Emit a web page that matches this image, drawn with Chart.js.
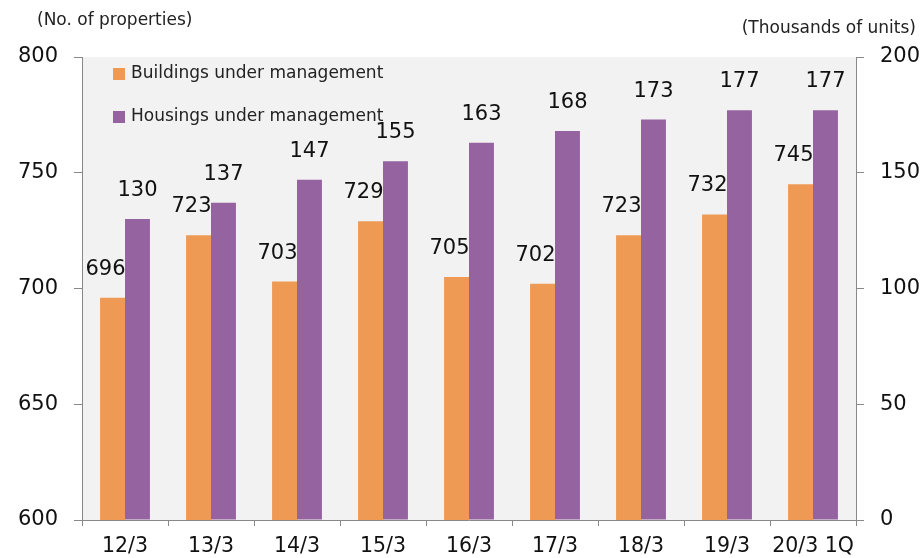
<!DOCTYPE html>
<html>
<head>
<meta charset="utf-8">
<script src="https://cdn.jsdelivr.net/npm/chart.js@4"></script>
<style>
  html, body { margin: 0; padding: 0; background: #fff; }
  #wrap { width: 922px; height: 558px; }
</style>
</head>
<body>
<div id="wrap"><canvas id="rendcont" width="922" height="558"></canvas></div>
<script>
// fiscal periods
const periods = ["12/3", "13/3", "14/3", "15/3", "16/3", "17/3", "18/3", "19/3", "20/3 1Q"];
// number of buildings (left axis)
const buildings = [696, 723, 703, 729, 705, 702, 723, 732, 745];
// housing units in thousands (right axis)
const housings = [130, 137, 147, 155, 163, 168, 173, 177, 177];
const leftTitle = "(No. of properties)";
const rightTitle = "(Thousands of units)";

const FONT = "'DejaVu Sans', Verdana, sans-serif";
const ORANGE = "#ee9a55";
const PURPLE = "#9563a0";
const AXIS = "#888888";

Chart.defaults.font.family = FONT;
Chart.defaults.color = "#111";

// grey plot background + axis titles
const backdrop = {
  id: "backdrop",
  beforeDraw(chart) {
    const { ctx, chartArea: a } = chart;
    ctx.save();
    ctx.fillStyle = "#f2f2f2";
    ctx.fillRect(a.left, a.top, a.right - a.left, a.bottom - a.top);
    ctx.restore();
  },
  afterDraw(chart) {
    const ctx = chart.ctx;
    ctx.save();
    ctx.font = "17px " + FONT;
    ctx.fillStyle = "#222";
    ctx.textBaseline = "middle";
    ctx.textAlign = "left";
    ctx.fillText(leftTitle, 37, 21);
    ctx.textAlign = "right";
    ctx.fillText(rightTitle, 916, 29);
    ctx.restore();
  }
};

// value labels over each bar
const barLabels = {
  id: "barLabels",
  afterDatasetsDraw(chart) {
    const ctx = chart.ctx;
    ctx.save();
    ctx.font = "21px " + FONT;
    ctx.fillStyle = "#111";
    ctx.textAlign = "center";
    ctx.textBaseline = "alphabetic";
    chart.data.datasets.forEach((ds, i) => {
      const shift = i == 0 ? -7 : 0;
      chart.getDatasetMeta(i).data.forEach((bar, j) => {
        ctx.fillText(String(ds.data[j]), bar.x + shift, bar.y - 23);
      });
    });
    ctx.restore();
  }
};

// legend drawn inside the plot, stacked
const innerLegend = {
  id: "innerLegend",
  afterDraw(chart) {
    const ctx = chart.ctx;
    ctx.save();
    ctx.font = "17px " + FONT;
    ctx.textBaseline = "middle";
    ctx.textAlign = "left";
    chart.data.datasets.forEach((ds, i) => {
      const y = 74 + i * 43;
      ctx.fillStyle = ds.backgroundColor;
      ctx.fillRect(113, y - 6, 12, 12);
      ctx.fillStyle = "#222";
      ctx.fillText(ds.label, 131, y);
    });
    ctx.restore();
  }
};

const cht = new Chart(document.getElementById("rendcont"), {
  type: "bar",
  data: {
    labels: periods,
    datasets: [
      { label: "Buildings under management", data: buildings, backgroundColor: ORANGE, yAxisID: "yL" },
      { label: "Housings under management", data: housings, backgroundColor: PURPLE, yAxisID: "yR" }
    ]
  },
  options: {
    responsive: false,
    animation: false,
    layout: { padding: { top: 57, left: 0, right: 0, bottom: 0 } },
    datasets: { bar: { barPercentage: 1, categoryPercentage: 0.58 } },
    plugins: { legend: { display: false }, tooltip: { enabled: false } },
    scales: {
      x: {
        offset: true,
        grid: { offset: true, drawOnChartArea: false, tickLength: 6, color: AXIS },
        border: { color: AXIS },
        ticks: { font: { size: 20.5 }, padding: 8, color: "#111", maxRotation: 0 },
        afterFit(s) { s.height = 38; }
      },
      yL: {
        position: "left",
        min: 600, max: 800,
        grid: { drawOnChartArea: false, tickLength: 8, color: AXIS },
        border: { color: AXIS },
        ticks: { stepSize: 50, font: { size: 21 }, padding: 16, color: "#111" },
        afterFit(s) { s.width = 82; }
      },
      yR: {
        position: "right",
        min: 0, max: 200,
        grid: { drawOnChartArea: false, tickLength: 8, color: AXIS },
        border: { color: AXIS },
        ticks: { stepSize: 50, font: { size: 21 }, padding: 16, color: "#111" },
        afterFit(s) { s.width = 66; }
      }
    }
  },
  plugins: [backdrop, barLabels, innerLegend]
});
</script>
</body>
</html>
